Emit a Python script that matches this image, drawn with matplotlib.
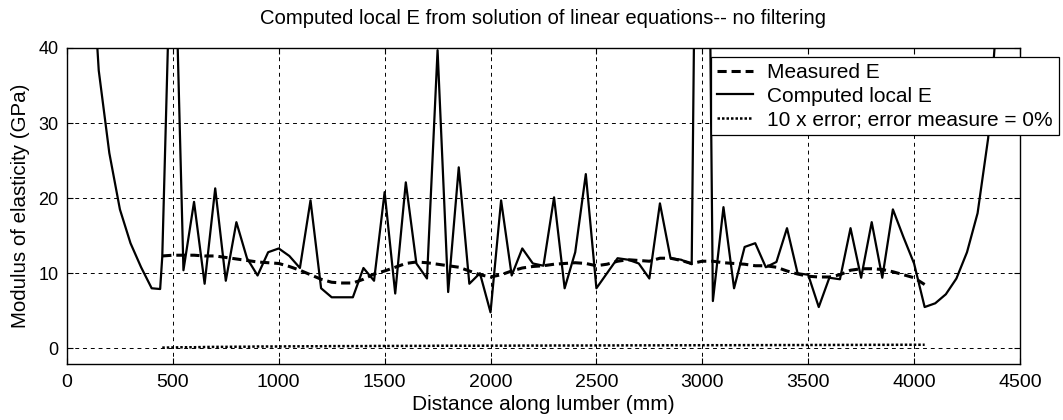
import matplotlib
matplotlib.use("Agg")
import matplotlib.pyplot as plt

# Computed local E (solid), GPa, along lumber (mm)
x_comp = [100, 150, 200, 250, 300, 350, 400, 440, 450, 500, 550, 600, 650, 700,
          750, 800, 850, 900, 950, 1000, 1050, 1100, 1150, 1200, 1250, 1300, 1350,
          1400, 1450, 1500, 1550, 1600, 1650, 1700, 1750, 1800, 1850, 1900, 1950,
          2000, 2050, 2100, 2150, 2200, 2250, 2300, 2350, 2400, 2450, 2500, 2550,
          2600, 2650, 2700, 2750, 2800, 2850, 2900, 2950, 3000, 3050, 3100, 3150,
          3200, 3250, 3300, 3350, 3400, 3450, 3500, 3550, 3600, 3650, 3700, 3750,
          3800, 3850, 3900, 3950, 4000, 4050, 4100, 4150, 4200, 4250, 4300, 4350, 4400]
e_comp = [60, 37, 26, 18.5, 14, 10.8, 8.0, 7.9, 12.2, 65, 10.4, 19.5, 8.6, 21.3,
          9.0, 16.8, 12.0, 9.7, 12.8, 13.3, 12.3, 10.7, 19.7, 8.0, 6.8, 6.8, 6.8,
          10.7, 9.0, 20.8, 7.3, 22.1, 11.3, 9.3, 39.7, 7.5, 24.1, 8.6, 10.0,
          4.8, 19.7, 9.7, 13.3, 11.3, 11.0, 20.1, 8.0, 12.8, 23.2, 8.0, 10.0,
          12.0, 11.8, 11.3, 9.3, 19.3, 12.0, 11.8, 11.2, 150, 6.3, 18.8, 8.0,
          13.5, 14.0, 10.8, 11.5, 16.0, 10.0, 9.8, 5.5, 9.4, 9.2, 16.0, 9.4,
          16.8, 9.4, 18.5, 14.8, 11.3, 5.5, 6.0, 7.2, 9.3, 12.8, 18.0, 28.0, 48.0]

# Measured E (dashed) and 10 x error (dotted), 450..4050 mm every 50 mm
x_meas = list(range(450, 4051, 50))
e_meas = [12.3, 12.4, 12.4, 12.4, 12.3, 12.3, 12.1, 11.9, 11.7, 11.5, 11.4, 11.3,
          10.9, 10.4, 9.8, 9.2, 8.8, 8.7, 8.7, 9.2, 9.9, 10.3, 10.8, 11.3, 11.5,
          11.4, 11.2, 11.0, 10.8, 10.3, 9.8, 9.5, 9.8, 10.3, 10.7, 10.9, 11.0,
          11.2, 11.3, 11.4, 11.3, 11.0, 11.2, 11.6, 11.8, 11.7, 11.6, 12.0, 12.0,
          11.7, 11.3, 11.6, 11.6, 11.4, 11.3, 11.2, 11.0, 11.0, 10.8, 10.3, 9.9,
          9.6, 9.5, 9.5, 9.8, 10.4, 10.6, 10.6, 10.5, 10.2, 9.8, 9.4, 8.5]
err10 = [0.10, 0.12, 0.15, 0.15, 0.18, 0.20, 0.20, 0.22, 0.22, 0.25, 0.25, 0.25,
         0.27, 0.27, 0.28, 0.28, 0.30, 0.30, 0.30, 0.30, 0.32, 0.32, 0.32, 0.33,
         0.33, 0.33, 0.35, 0.35, 0.35, 0.35, 0.35, 0.36, 0.36, 0.36, 0.37, 0.37,
         0.37, 0.38, 0.38, 0.38, 0.38, 0.39, 0.39, 0.39, 0.40, 0.40, 0.40, 0.40,
         0.41, 0.41, 0.41, 0.42, 0.42, 0.42, 0.42, 0.43, 0.43, 0.43, 0.44, 0.44,
         0.44, 0.45, 0.45, 0.45, 0.46, 0.46, 0.46, 0.47, 0.47, 0.47, 0.48, 0.48, 0.48]

x_ticks = [0, 500, 1000, 1500, 2000, 2500, 3000, 3500, 4000, 4500]
y_ticks = [0, 10, 20, 30, 40]

plt.rcParams['font.family'] = ['Liberation Sans', 'DejaVu Sans']

fig = plt.figure(figsize=(10.63, 4.2), dpi=100)
ax = fig.add_axes([0.063, 0.133, 0.8965, 0.753])

ax.plot(x_meas, e_meas, color='black', lw=2.2, ls=(0, (3, 1.6)), label='Measured E', zorder=3)
ax.plot(x_comp, e_comp, color='black', lw=1.6, ls='-', label='Computed local E', zorder=4)
ax.plot(x_meas, err10, color='black', lw=1.8, ls=(0, (1, 0.8)),
        label='10 x error; error measure = 0%', zorder=3)

ax.set_xlim(0, 4500)
ax.set_ylim(-2.1, 40)
ax.set_xticks(x_ticks)
ax.set_yticks(y_ticks)
ax.grid(True, color='black', lw=0.7, ls=(0, (4, 4)))
ax.tick_params(direction='in', top=True, right=True, length=4, width=0.8)
ax.tick_params(axis='y', labelsize=13, pad=6)
ax.tick_params(axis='x', labelsize=14, pad=7)
for s in ax.spines.values():
    s.set_linewidth(1.0)

ax.set_title('Computed local E from solution of linear equations-- no filtering',
             fontsize=14.6, pad=17)
ax.set_xlabel('Distance along lumber (mm)', fontsize=15, labelpad=3)
ax.set_ylabel('Modulus of elasticity (GPa)', fontsize=14.8, labelpad=6)

leg = ax.legend(loc='upper left', bbox_to_anchor=(0.676, 0.972), fontsize=15,
                frameon=True, fancybox=False, edgecolor='black', framealpha=1,
                handlelength=1.7, handletextpad=0.7, borderpad=0.3,
                labelspacing=0.22, borderaxespad=0)
leg.get_frame().set_linewidth(0.9)
leg.set_clip_on(False)

fig.savefig('out.png', dpi=100)
